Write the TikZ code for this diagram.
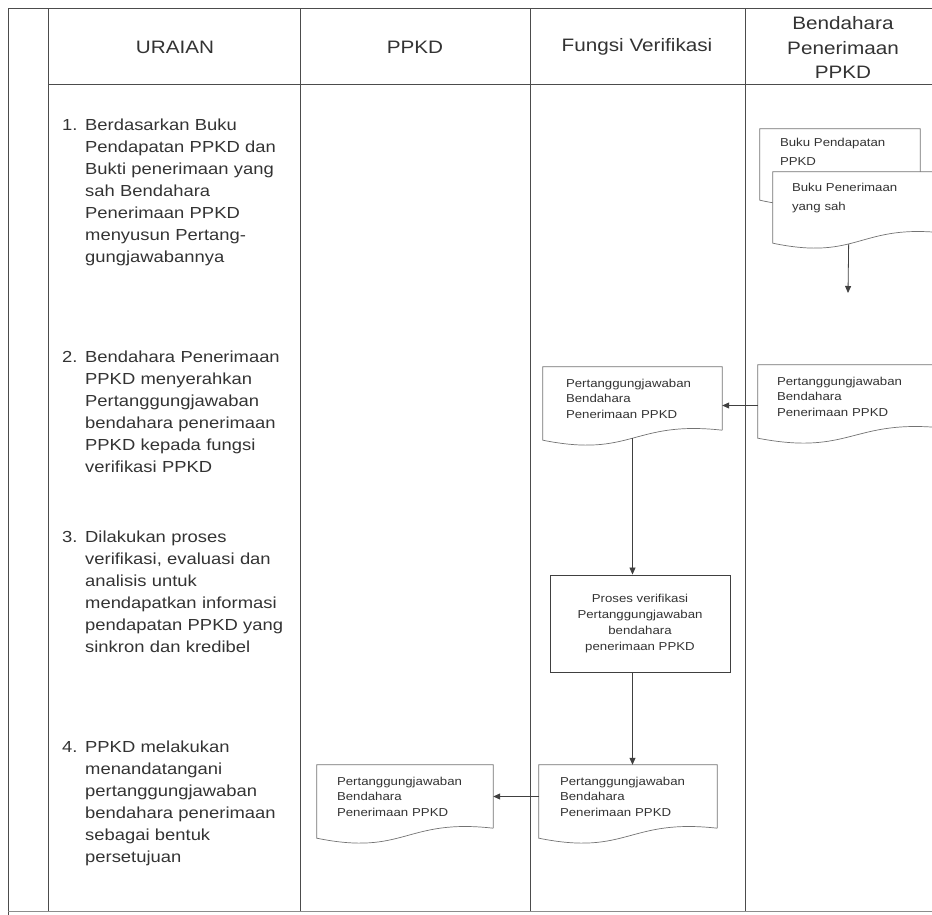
\documentclass[tikz,border=0pt]{standalone}
\usepackage{fontspec}
\setmainfont{Liberation Sans}[FakeStretch=1.15]
\usepackage{tikz}
\usetikzlibrary{positioning,calc,arrows.meta,backgrounds}

\newcommand{\docshape}[1]{%
  \begin{scope}[on background layer]
    \draw[docline] (#1.south east) -- (#1.north east) -- (#1.north west)
      -- ([yshift=-10pt]#1.south west)
      .. controls ($(#1.south west)!0.5!(#1.south east)+(0,-28pt)$)
      and ($(#1.south west)!0.5!(#1.south east)+(0,10pt)$) .. (#1.south east);
  \end{scope}}

\begin{document}
\begin{tikzpicture}[x=1pt,y=-1pt]
        \tikzstyle{tabline}=[black!70, line width=1pt]
        \tikzstyle{docline}=[black!55, line width=0.7pt, fill=white]
        \tikzstyle{flow}=[black!75, line width=0.8pt, -{Triangle[width=6pt,length=7pt]}]
        \tikzstyle{colhead}=[text=black!80, font=\fontsize{18}{24.5}\selectfont, align=center, inner sep=0pt]
        \tikzstyle{stepnum}=[text=black!80, font=\fontsize{16}{22}\selectfont, anchor=north west, inner sep=0pt]
        \tikzstyle{steptext}=[stepnum, text width=210pt, align=left]
        \tikzstyle{docnode}=[text=black!80, font=\fontsize{11.5}{15.5}\selectfont, align=left, inner ysep=0pt, minimum height=63pt]
        \tikzstyle{procbox}=[draw=black!75, line width=0.9pt, text=black!80, font=\fontsize{11.5}{16}\selectfont, align=center, minimum width=180pt, minimum height=97pt, inner sep=0pt]

        \useasboundingbox (0,0) rectangle (932,915);

        % frame and lanes
        \draw[tabline] (8,915) -- (8,9) -- (932,9);
        \draw[tabline] (48,85) -- (932,85);
        \foreach \x in {48,300,530,745}
            \draw[tabline] (\x,9) -- (\x,911);
        \draw[black!45, line width=0.8pt] (8,911) -- (932,911);

        \node[colhead] (hurai) at (175,47) {URAIAN};
        \node[colhead] (hppkd) at (415,47) {PPKD};
        \node[colhead] (hverif) at (637,47) {Fungsi Verifikasi};
        \node[colhead] (hbend) at (843,47.5) {Bendahara\\Penerimaan\\PPKD};

        % uraian
        \node[stepnum] (n1) at (62,119) {1.};
        \node[steptext] (t1) at (85,119) {Berdasarkan Buku\\Pendapatan PPKD dan\\Bukti penerimaan yang\\sah Bendahara\\Penerimaan PPKD\\menyusun Pertang-\\gungjawabannya};
        \node[stepnum] (n2) at (62,351) {2.};
        \node[steptext] (t2) at (85,351) {Bendahara Penerimaan\\PPKD menyerahkan\\Pertanggungjawaban\\bendahara penerimaan\\PPKD kepada fungsi\\verifikasi PPKD};
        \node[stepnum] (n3) at (62,531) {3.};
        \node[steptext] (t3) at (85,531) {Dilakukan proses\\verifikasi, evaluasi dan\\analisis untuk\\mendapatkan informasi\\pendapatan PPKD yang\\sinkron dan kredibel};
        \node[stepnum] (n4) at (62,741) {4.};
        \node[steptext] (t4) at (85,741) {PPKD melakukan\\menandatangani\\pertanggungjawaban\\bendahara penerimaan\\sebagai bentuk\\persetujuan};

        % documents
        \node[docnode, text width=120pt, inner xsep=20pt, minimum height=61pt, text depth=33.5pt, font=\fontsize{11.5}{19}\selectfont] (bpend) at (840,159.5) {Buku Pendapatan\\PPKD};
        \docshape{bpend}
        \node[docnode, text width=134pt, inner xsep=19pt, minimum height=61pt, text depth=29.5pt, font=\fontsize{11.5}{19}\selectfont] (bpen) at (859,202.5) {Buku Penerimaan\\yang sah};
        \docshape{bpen}
        \coordinate (bpenend) at (848,293);

        \node[docnode, text width=149pt, inner xsep=19pt] (rpj) at (851.5,396.5) {Pertanggungjawaban\\Bendahara\\Penerimaan PPKD};
        \docshape{rpj}
        \node[docnode, text width=133pt, inner xsep=23pt] (mpj) at (632.5,398.5) {Pertanggungjawaban\\Bendahara\\Penerimaan PPKD};
        \docshape{mpj}

        \node[procbox] (proc) at (640,623.5) {Proses verifikasi\\Pertanggungjawaban\\bendahara\\penerimaan PPKD};

        \node[docnode, text width=136pt, inner xsep=21pt] (bmpj) at (628,796.5) {Pertanggungjawaban\\Bendahara\\Penerimaan PPKD};
        \docshape{bmpj}
        \node[docnode, text width=136pt, inner xsep=20pt] (bppkd) at (405,796.5) {Pertanggungjawaban\\Bendahara\\Penerimaan PPKD};
        \docshape{bppkd}

        % flow
        \draw[flow] ($(bpen.south west)!0.44!(bpen.south east)+(0,-11pt)$) -- (bpenend);
        \draw[flow] ([yshift=-9pt]rpj.west) -- ([yshift=-9pt]rpj.west -| mpj.east);
        \draw[flow] ($(mpj.south)+(0,-8pt)$) -- (mpj.south |- proc.north);
        \draw[flow] (mpj.south |- proc.south) -- (mpj.south |- bmpj.north);
        \draw[flow] (bmpj.west) -- (bmpj.west -| bppkd.east);
    \end{tikzpicture}
\end{document}
